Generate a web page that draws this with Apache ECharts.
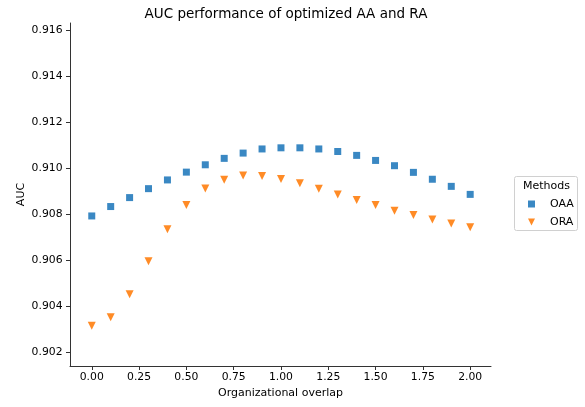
<!DOCTYPE html>
<html style="height: 100%">
<head>
    <meta charset="utf-8">
</head>
<body style="height: 100%; margin: 0">
    <div id="container" style="width: 585px; height: 407px"></div>
    <script type="text/javascript" src="https://cdn.jsdelivr.net/npm/echarts@6/dist/echarts.min.js"></script>
    <script type="text/javascript">
        var overlap = [0.0, 0.1, 0.2, 0.3, 0.4, 0.5, 0.6, 0.7, 0.8, 0.9, 1.0,
            1.1, 1.2, 1.3, 1.4, 1.5, 1.6, 1.7, 1.8, 1.9, 2.0];
        var oaa = [0.90792, 0.90833, 0.90872, 0.90911, 0.90949, 0.90983, 0.91015, 0.91043, 0.91066, 0.91084, 0.91089,
            0.91089, 0.91084, 0.91073, 0.91056, 0.91034, 0.91011, 0.90982, 0.90952, 0.90921, 0.90886];
        var ora = [0.90313, 0.90351, 0.90451, 0.90595, 0.90734, 0.9084, 0.90912, 0.9095, 0.90968, 0.90966, 0.90953,
            0.90934, 0.90911, 0.90885, 0.90862, 0.9084, 0.90815, 0.90796, 0.90776, 0.90759, 0.90743];
        var xTicks = [0, 0.25, 0.5, 0.75, 1.0, 1.25, 1.5, 1.75, 2.0];
        var yTicks = [0.902, 0.904, 0.906, 0.908, 0.910, 0.912, 0.914, 0.916];

        function pairs(ys) {
            var out = [];
            for (var i = 0; i < overlap.length; i++) {
                out.push([overlap[i], ys[i]]);
            }
            return out;
        }

        var font = 'DejaVu Sans';
        var myChart = echarts.init(document.getElementById('container'));
        var option = {
            backgroundColor: '#fff',
            animation: false,
            textStyle: { fontFamily: font },
            title: {
                text: 'AUC performance of optimized AA and RA',
                left: 281,
                textAlign: 'center',
                top: 2,
                textStyle: { fontFamily: font, fontSize: 13.5, fontWeight: 'normal', color: '#000' }
            },
            grid: { left: 70, right: 94, top: 23, bottom: 41, outerBoundsMode: 'none' },
            xAxis: {
                type: 'value',
                min: -0.115,
                max: 2.11,
                name: 'Organizational overlap',
                nameLocation: 'middle',
                nameGap: 22,
                nameMoveOverlap: false,
                nameTextStyle: { fontFamily: font, fontSize: 11, color: '#000' },
                splitLine: { show: false },
                axisLine: { onZero: false, lineStyle: { color: '#333', width: 1 } },
                axisTick: { customValues: xTicks, length: 4, lineStyle: { color: '#333' } },
                axisLabel: {
                    customValues: xTicks,
                    fontSize: 10.8,
                    color: '#000',
                    margin: 6,
                    formatter: function (v) { return v.toFixed(2); }
                }
            },
            yAxis: {
                type: 'value',
                min: 0.90138,
                max: 0.91633,
                name: 'AUC',
                nameLocation: 'middle',
                nameGap: 43,
                nameMoveOverlap: false,
                nameTextStyle: { fontFamily: font, fontSize: 11, color: '#000' },
                splitLine: { show: false },
                axisLine: { show: true, onZero: false, lineStyle: { color: '#333', width: 1 } },
                axisTick: { show: true, customValues: yTicks, length: 4, lineStyle: { color: '#333' } },
                axisLabel: {
                    customValues: yTicks,
                    fontSize: 10.8,
                    color: '#000',
                    margin: 7.5,
                    formatter: function (v) { return v.toFixed(3); }
                }
            },
            legend: {
                orient: 'vertical',
                left: 528,
                top: 198,
                padding: 0,
                itemWidth: 7,
                itemHeight: 7,
                itemGap: 6,
                textStyle: { fontFamily: font, fontSize: 11, lineHeight: 12, color: '#000', padding: [0, 0, 0, 10] },
                data: [
                    { name: 'OAA', icon: 'rect' },
                    { name: 'ORA', icon: 'path://M0,0 L10,0 L5,10 Z' }
                ]
            },
            graphic: [
                {
                    type: 'rect',
                    shape: { x: 514.5, y: 176.5, width: 63, height: 54, r: 2 },
                    style: { fill: '#fff', stroke: '#d0d0d0', lineWidth: 1 },
                    z: -1
                },
                {
                    type: 'text',
                    x: 546.5,
                    y: 186,
                    style: {
                        text: 'Methods', fontFamily: font, fontSize: 11, fill: '#000',
                        textAlign: 'center', textVerticalAlign: 'middle'
                    }
                }
            ],
            series: [
                {
                    name: 'OAA',
                    type: 'scatter',
                    symbol: 'rect',
                    symbolSize: 7,
                    itemStyle: { color: '#3a88c3', opacity: 1 },
                    data: pairs(oaa)
                },
                {
                    name: 'ORA',
                    type: 'scatter',
                    symbol: 'triangle',
                    symbolRotate: 180,
                    symbolSize: 8,
                    itemStyle: { color: '#ff8b26', opacity: 1 },
                    data: pairs(ora)
                }
            ]
        };
        myChart.setOption(option);
    </script>
</body>
</html>
